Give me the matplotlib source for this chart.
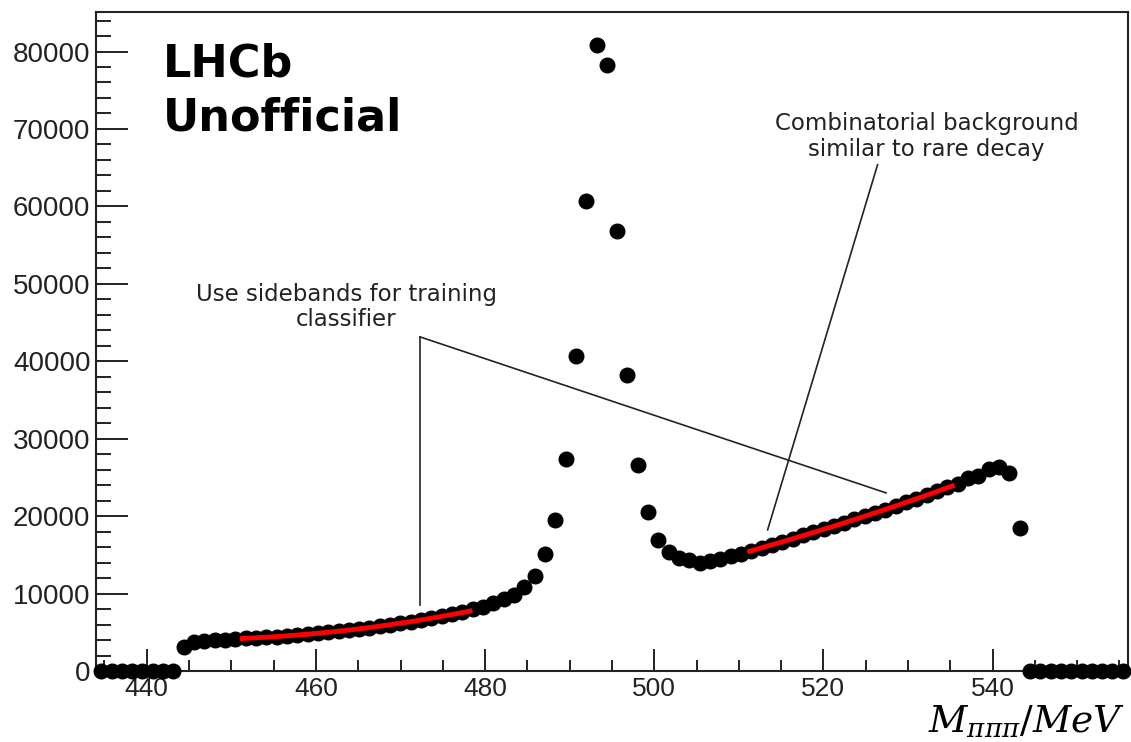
import numpy as np
import matplotlib
matplotlib.use("Agg")
import matplotlib.pyplot as plt
from matplotlib.ticker import MultipleLocator

# histogram binning: 100 bins between 434 and 556 MeV
bin_lo, bin_hi, n_bins = 434.0, 556.0, 100

counts = [
    0, 0, 0, 0, 0, 0, 0, 0,
    3100, 3700, 3900, 4000, 4050, 4100, 4200, 4250, 4350, 4450,
    4550, 4650, 4800, 4900, 5050, 5150, 5300, 5450, 5600, 5750,
    5950, 6150, 6350, 6550, 6800, 7050, 7300, 7600, 7950, 8300,
    8800, 9300, 9800, 10900, 12300, 15100, 19500, 27400, 40700, 60700,
    80900, 78200, 56800, 38200, 26600, 20500, 16900, 15400, 14600, 14300,
    14000, 14200, 14500, 14800, 15100, 15500, 15900, 16300, 16700, 17100,
    17500, 17900, 18300, 18700, 19100, 19600, 20000, 20400, 20800, 21300,
    21800, 22200, 22700, 23200, 23700, 24200, 24900, 25200, 26100, 26300,
    25600, 18500, 0, 0, 0, 0, 0, 0, 0, 0, 0, 0,
]

# sideband ranges used for the background fits
left_sb = (451.0, 478.5)
right_sb = (511.0, 535.5)

edges = np.linspace(bin_lo, bin_hi, n_bins + 1)
centers = 0.5 * (edges[1:] + edges[:-1])
y = np.array(counts, dtype=float)

fig = plt.figure(figsize=(11.31, 7.42), dpi=100)
ax = fig.add_axes([0.0849, 0.0957, 0.9124, 0.8881])

ax.errorbar(centers, y, yerr=np.sqrt(y), xerr=0.5 * (edges[1] - edges[0]),
            fmt='o', color='black', ms=10.5, elinewidth=1.0, capsize=0,
            clip_on=False, zorder=3)

# quadratic fit to each sideband
for lo, hi in (left_sb, right_sb):
    m = (centers >= lo) & (centers <= hi)
    p = np.polyfit(centers[m], y[m], 2)
    xx = np.linspace(lo, hi, 200)
    ax.plot(xx, np.polyval(p, xx), color='red', lw=3.5, zorder=4,
            solid_capstyle='butt')

ax.set_xlim(bin_lo, bin_hi)
ax.set_ylim(0, 85100)

ax.xaxis.set_major_locator(MultipleLocator(20))
ax.xaxis.set_minor_locator(MultipleLocator(5))
ax.yaxis.set_major_locator(MultipleLocator(10000))
ax.yaxis.set_minor_locator(MultipleLocator(2000))
ax.tick_params(which='both', direction='in', top=False, right=False, color='#222222', width=1.4)
ax.tick_params(axis='y', which='major', length=23, pad=4)
ax.tick_params(axis='y', which='minor', length=11)
ax.tick_params(axis='x', which='major', length=16, pad=4)
ax.tick_params(axis='x', which='minor', length=8)
for lab in ax.get_xticklabels():
    lab.set_fontfamily('Liberation Sans')
    lab.set_fontsize(19)
    lab.set_color('#222222')
for lab in ax.get_yticklabels():
    lab.set_fontfamily('Liberation Sans')
    lab.set_fontsize(20)
    lab.set_color('#222222')
for s in ax.spines.values():
    s.set_linewidth(1.5)
    s.set_color('#222222')

ax.text(441.9, 81100, 'LHCb\nUnofficial', fontsize=32, fontweight='bold',
        family='DejaVu Sans', va='top', ha='left', linespacing=1.3)

# annotation lines
ax.plot([472.3, 472.3], [43150, 8530], color='#222222', lw=1.2)
ax.plot([472.3, 527.4], [43150, 23000], color='#222222', lw=1.2)
ax.plot([526.4, 513.4], [65380, 18220], color='#222222', lw=1.2)

ax.text(463.6, 47000, 'Use sidebands for training\nclassifier', fontsize=16.5,
        family='DejaVu Sans', ha='center', va='center', multialignment='center',
        color='#222222', linespacing=1.1)
ax.text(532.2, 69000, 'Combinatorial background\nsimilar to rare decay', fontsize=16.5,
        family='DejaVu Sans', ha='center', va='center', multialignment='center',
        color='#222222', linespacing=1.2)

plt.rcParams['mathtext.fontset'] = 'dejavuserif'
fig.text(0.995, 0.0135, r'$M_{\pi\pi\pi}/MeV$', fontsize=27, ha='right', va='baseline')

fig.savefig('out.png', dpi=100)
